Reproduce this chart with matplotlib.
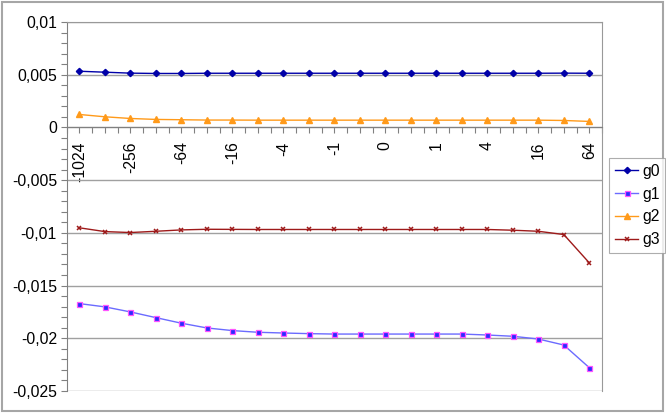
"""Excel-style line chart of four series g0..g3 over power-of-two categories."""
import matplotlib
matplotlib.use("Agg")
import matplotlib.pyplot as plt
from matplotlib.patches import Rectangle
from matplotlib.ticker import FuncFormatter, MultipleLocator

plt.rcParams["font.family"] = ["Liberation Sans", "DejaVu Sans"]

categories = ["-1024", "-512", "-256", "-128", "-64", "-32", "-16", "-8", "-4", "-2",
              "-1", "-0,5", "0", "0,5", "1", "2", "4", "8", "16", "32", "64"]

g0 = [0.00533, 0.00524, 0.00515, 0.00512, 0.00512, 0.00514, 0.00514, 0.00514, 0.00514,
      0.00514, 0.00514, 0.00514, 0.00514, 0.00514, 0.00514, 0.00514, 0.00514, 0.00514,
      0.00514, 0.00515, 0.00514]
g1 = [-0.01671, -0.01702, -0.0175, -0.01804, -0.01857, -0.01902, -0.01927, -0.01943,
      -0.0195, -0.01956, -0.0196, -0.0196, -0.0196, -0.0196, -0.0196, -0.0196, -0.01969,
      -0.01981, -0.02007, -0.02064, -0.02279]
g2 = [0.00123, 0.00101, 0.00085, 0.00076, 0.00073, 0.0007, 0.0007, 0.00069, 0.00069,
      0.00069, 0.00069, 0.00069, 0.00069, 0.00069, 0.00069, 0.00069, 0.00069, 0.00069,
      0.00069, 0.00066, 0.00057]
g3 = [-0.00952, -0.00988, -0.00997, -0.00985, -0.00972, -0.00966, -0.00967, -0.00968,
      -0.00968, -0.00968, -0.00968, -0.00968, -0.00968, -0.00968, -0.00968, -0.00968,
      -0.00968, -0.00975, -0.00985, -0.01016, -0.01285]

fig = plt.figure(figsize=(6.66, 4.13), dpi=100)
fig.patches.append(Rectangle((0.003, 0.004), 0.993, 0.992, transform=fig.transFigure,
                             fill=False, edgecolor="#a6a6a6", linewidth=1.5))
ax = fig.add_axes([0.1, 0.0533, 0.804, 0.8934])

x = range(len(categories))
ax.plot(x, g0, color="#0000a8", marker="D", markersize=3.2, linewidth=1, label="g0")
ax.plot(x, g1, color="#6b6bff", marker="s", markersize=3.6, markerfacecolor="#2b2bff",
        markeredgecolor="#ff55ff", markeredgewidth=0.9, linewidth=1, label="g1")
ax.plot(x, g2, color="#ff9a1a", marker="^", markersize=4.2, linewidth=1, label="g2")
ax.plot(x, g3, color="#9e1a1a", marker="x", markersize=3.5, markeredgewidth=1.1,
        linewidth=1, label="g3")

ax.set_xlim(-0.5, len(categories) - 0.5)
ax.set_ylim(-0.025, 0.01)
ax.yaxis.set_major_locator(MultipleLocator(0.005))
ax.yaxis.set_minor_locator(MultipleLocator(0.001))
ax.yaxis.set_major_formatter(FuncFormatter(
    lambda v, _: "0" if abs(v) < 1e-12 else f"{v:g}".replace(".", ",")))
ax.grid(axis="y", color="#a0a0a0", linewidth=1)
ax.set_axisbelow(True)
ax.tick_params(axis="y", which="both", length=4, width=0.8, color="#808080",
               labelsize=11.3, pad=3)

# x axis crosses at zero, ticks at centres and between categories
ax.spines["bottom"].set_position(("data", 0))
ax.spines["bottom"].set_color("#808080")
ax.spines["left"].set_color("#808080")
ax.spines["top"].set_color("#999999")
ax.spines["right"].set_color("#999999")
ax.set_xticks([i * 0.5 - 0.5 for i in range(2 * len(categories) + 1)])
ax.set_xticklabels(["" if i % 2 == 0 or (i // 2) % 2 == 1 else categories[i // 2]
                    for i in range(2 * len(categories) + 1)],
                   rotation=90, va="top", ha="center")
ax.tick_params(axis="x", length=4, width=0.8, color="#808080", labelsize=11.3, pad=6)

leg = fig.legend(loc="upper left", bbox_to_anchor=(0.915, 0.617), fontsize=11.3,
                 frameon=True, fancybox=False, edgecolor="#999999", handlelength=1.5,
                 handletextpad=0.25, borderpad=0.35, labelspacing=0.5, borderaxespad=0)
leg.get_frame().set_linewidth(0.8)

fig.savefig("out.png", dpi=100)
